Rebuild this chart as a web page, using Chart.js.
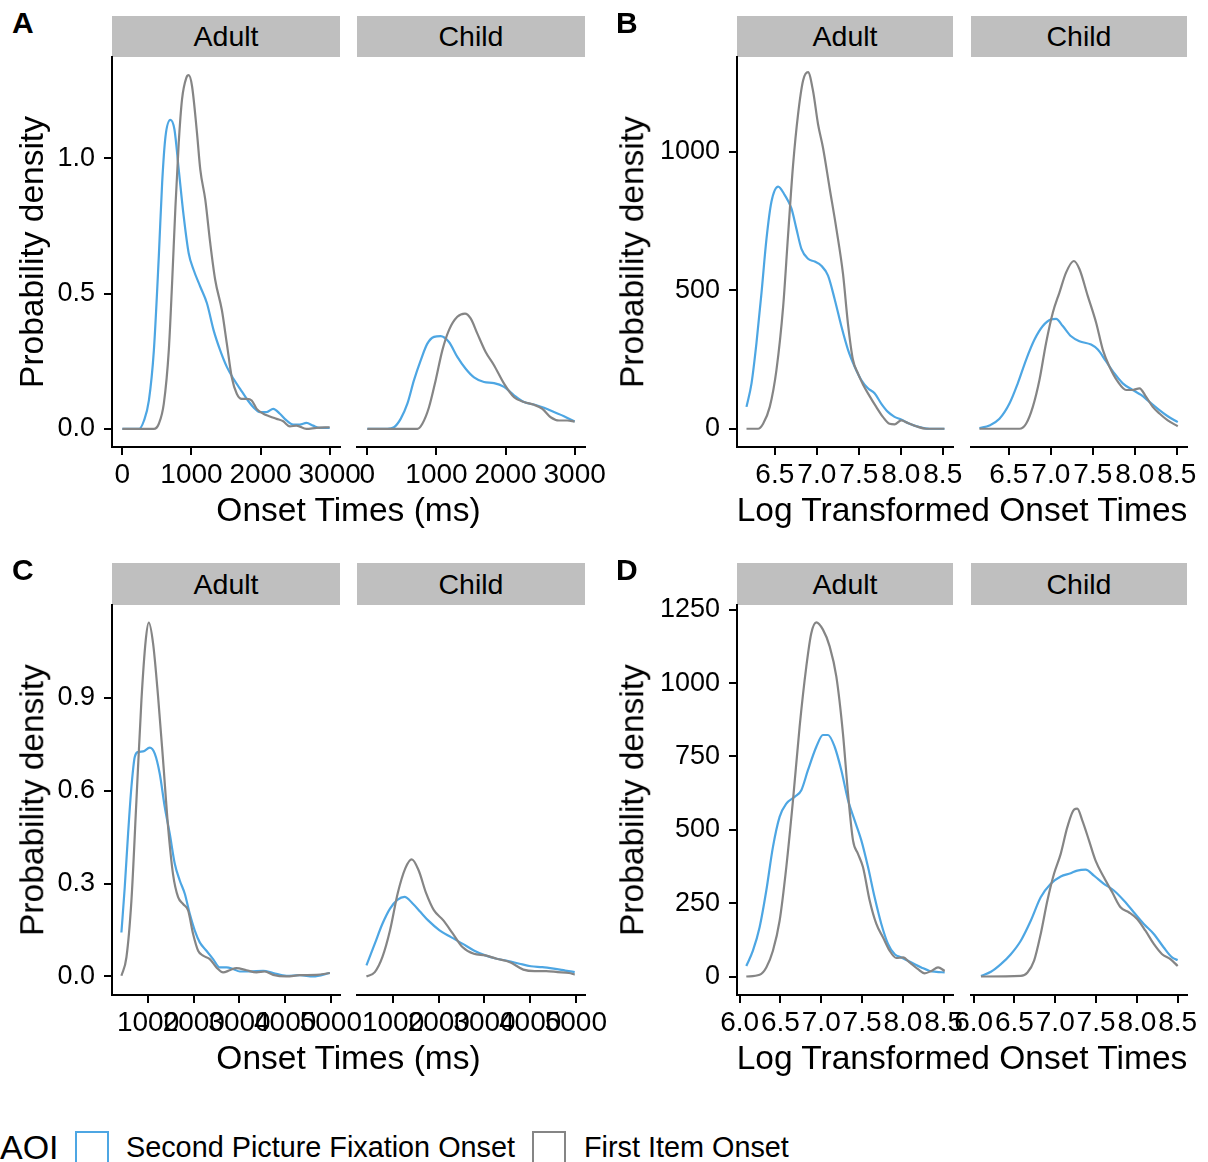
<!DOCTYPE html>
<html>
<head>
<meta charset="utf-8">
<title>Onset time densities</title>
<script src="https://cdn.jsdelivr.net/npm/chart.js@4.4.1/dist/chart.umd.min.js"></script>
<style>
  html, body { margin: 0; padding: 0; background: #fff; }
  #fig { position: relative; width: 1208px; height: 1162px; overflow: hidden;
         font-family: "Liberation Sans", Arial, sans-serif; color: #000; }
  .strip { position: absolute; background: #bfbfbf; font-size: 28.5px;
           display: flex; align-items: center; justify-content: center; }
  .tag { position: absolute; font-weight: bold; font-size: 30px; line-height: 1; }
  .xtitle, .ytitle, .lg { position: absolute; line-height: 1; white-space: nowrap; }
  .xtitle { font-size: 33.5px; transform: translate(-50%, -50%); }
  .ytitle { font-size: 33.5px; transform: translate(-50%, -50%) rotate(-90deg); }
  .lg { transform: translateY(-50%); }
  .key { position: absolute; box-sizing: border-box; border: 2px solid; background: #fff; }
  canvas { position: absolute; }
</style>
</head>
<body>
<div id="fig"></div>
<script>
const SECOND = 'Second Picture Fixation Onset';
const FIRST = 'First Item Onset';
const BLUE = '#4da6e3';
const GREY = '#858585';

// --- A: raw onset times (ms) ---
const aAdultSecond = [[0,0],[240,0],[312,0.03],[384,0.105],[456,0.29],[528,0.64],[576,0.91],[624,1.08],[696,1.142],[754,1.106],[816,0.958],[888,0.785],[960,0.649],[1032,0.587],[1128,0.525],[1224,0.464],[1320,0.365],[1416,0.29],[1512,0.229],[1608,0.185],[1704,0.148],[1800,0.111],[1896,0.08],[1992,0.062],[2088,0.062],[2184,0.074],[2280,0.056],[2376,0.031],[2472,0.016],[2568,0.016],[2664,0.022],[2760,0.012],[2856,0.004],[3000,0.004]];
const aAdultFirst = [[0,0],[456,0],[528,0.019],[600,0.093],[672,0.29],[720,0.54],[768,0.82],[816,1.057],[864,1.218],[927,1.298],[960,1.307],[1008,1.267],[1080,1.094],[1128,0.958],[1200,0.847],[1272,0.686],[1344,0.55],[1440,0.439],[1512,0.315],[1584,0.19],[1656,0.13],[1728,0.111],[1800,0.111],[1872,0.105],[1944,0.074],[2040,0.056],[2136,0.046],[2232,0.037],[2328,0.028],[2424,0.009],[2520,0.012],[2664,0],[2808,0.004],[3000,0.006]];
const aChildSecond = [[0,0],[289,0],[386,0.006],[482,0.037],[579,0.093],[675,0.18],[772,0.253],[868,0.315],[965,0.34],[1060,0.343],[1181,0.321],[1302,0.266],[1423,0.222],[1544,0.19],[1688,0.173],[1833,0.169],[1978,0.155],[2123,0.124],[2267,0.099],[2412,0.09],[2557,0.078],[2701,0.062],[2846,0.047],[3000,0.027]];
const aChildFirst = [[0,0],[724,0],[796,0.019],[892,0.08],[989,0.18],[1085,0.29],[1181,0.365],[1302,0.414],[1413,0.426],[1495,0.408],[1592,0.352],[1712,0.284],[1833,0.235],[1978,0.167],[2123,0.117],[2267,0.099],[2412,0.089],[2533,0.074],[2653,0.043],[2774,0.031],[2894,0.031],[3000,0.027]];

// --- B: log onset times ---
const bAdultSecond = [[6.163,79],[6.223,164],[6.282,310],[6.342,492],[6.401,686],[6.46,820],[6.54,875],[6.619,844],[6.698,796],[6.757,723],[6.817,650],[6.896,614],[6.975,604],[7.054,589],[7.134,553],[7.213,468],[7.292,371],[7.371,286],[7.45,225],[7.53,176],[7.609,146],[7.688,128],[7.767,91],[7.847,61],[7.926,43],[8.005,33],[8.104,18],[8.223,6],[8.342,0],[8.52,0]];
const bAdultFirst = [[6.163,0],[6.3,0],[6.361,18],[6.44,79],[6.52,213],[6.6,443],[6.658,699],[6.718,954],[6.777,1136],[6.837,1258],[6.896,1288],[6.955,1221],[7.015,1100],[7.074,1015],[7.153,869],[7.233,723],[7.312,560],[7.371,380],[7.43,250],[7.49,200],[7.55,160],[7.629,118],[7.708,79],[7.787,43],[7.866,18],[7.926,16],[8.005,30],[8.084,21],[8.183,9],[8.302,0],[8.52,0]];
const bChildSecond = [[6.151,2],[6.27,12],[6.389,36],[6.508,91],[6.607,164],[6.706,249],[6.806,322],[6.905,371],[7.004,395],[7.063,397],[7.143,371],[7.242,334],[7.341,316],[7.48,304],[7.56,286],[7.659,243],[7.758,200],[7.857,164],[7.976,140],[8.075,122],[8.175,97],[8.294,67],[8.393,45],[8.512,24]];
const bChildFirst = [[6.151,0],[6.627,0],[6.706,18],[6.786,79],[6.865,176],[6.944,310],[7.024,419],[7.103,492],[7.183,565],[7.274,606],[7.341,577],[7.44,480],[7.54,383],[7.619,286],[7.698,225],[7.798,170],[7.897,140],[7.976,140],[8.056,146],[8.135,115],[8.214,79],[8.294,55],[8.393,30],[8.512,9]];

// --- C: raw onset times (ms), wider window ---
const cAdultSecond = [[416,0.142],[489,0.288],[562,0.461],[635,0.612],[708,0.709],[781,0.725],[891,0.727],[1036,0.739],[1146,0.72],[1255,0.655],[1365,0.547],[1474,0.461],[1584,0.364],[1693,0.31],[1803,0.267],[1912,0.202],[2022,0.148],[2131,0.11],[2277,0.083],[2423,0.056],[2569,0.029],[2715,0.029],[2861,0.024],[3007,0.016],[3226,0.016],[3518,0.018],[3737,0.011],[4029,0.002],[4321,0.004],[4613,0],[4978,0.011]];
const cAdultFirst = [[416,0.002],[526,0.062],[635,0.245],[745,0.569],[854,0.892],[949,1.087],[1015,1.143],[1109,1.076],[1219,0.903],[1328,0.698],[1438,0.482],[1547,0.329],[1657,0.256],[1766,0.234],[1876,0.213],[1985,0.137],[2095,0.083],[2204,0.067],[2350,0.056],[2496,0.029],[2642,0.013],[2788,0.02],[2934,0.027],[3153,0.02],[3372,0.013],[3555,0.016],[3737,0.005],[4029,0],[4321,0.004],[4686,0.005],[4978,0.011]];
const cChildSecond = [[417,0.036],[600,0.106],[767,0.17],[933,0.219],[1100,0.248],[1250,0.257],[1433,0.235],[1600,0.208],[1767,0.181],[2017,0.149],[2267,0.127],[2517,0.106],[2767,0.084],[3017,0.068],[3267,0.057],[3517,0.05],[3767,0.041],[4017,0.033],[4267,0.03],[4517,0.025],[4767,0.019],[4975,0.014]];
const cChildFirst = [[417,0],[600,0.014],[767,0.063],[933,0.149],[1100,0.268],[1267,0.349],[1408,0.378],[1558,0.343],[1725,0.268],[1892,0.214],[2100,0.181],[2308,0.138],[2517,0.095],[2767,0.073],[3017,0.068],[3267,0.057],[3558,0.046],[3850,0.022],[4100,0.017],[4350,0.017],[4600,0.014],[4850,0.011],[4975,0.006]];

// --- D: log onset times, wider window ---
const dAdultSecond = [[6.082,36],[6.163,88],[6.245,168],[6.327,293],[6.408,441],[6.49,544],[6.572,589],[6.674,612],[6.756,635],[6.837,703],[6.94,783],[7.021,823],[7.083,823],[7.164,783],[7.246,703],[7.328,601],[7.409,532],[7.491,464],[7.573,373],[7.654,270],[7.736,179],[7.818,111],[7.9,76],[7.981,65],[8.063,54],[8.145,42],[8.226,31],[8.328,19],[8.41,16],[8.512,14]];
const dAdultFirst = [[6.082,0],[6.245,6],[6.327,31],[6.408,88],[6.49,190],[6.572,373],[6.654,601],[6.735,851],[6.817,1056],[6.878,1170],[6.94,1207],[7.021,1182],[7.103,1125],[7.185,1022],[7.266,828],[7.328,623],[7.389,464],[7.45,418],[7.511,373],[7.593,259],[7.675,179],[7.757,133],[7.838,88],[7.92,63],[8.002,65],[8.083,48],[8.185,25],[8.267,11],[8.349,19],[8.431,31],[8.512,19]];
const dChildSecond = [[6.09,2],[6.212,16],[6.334,42],[6.456,76],[6.578,122],[6.7,190],[6.822,270],[6.945,316],[7.067,341],[7.189,352],[7.27,361],[7.372,364],[7.474,344],[7.596,316],[7.718,293],[7.84,259],[7.962,219],[8.085,179],[8.207,145],[8.329,99],[8.431,65],[8.5,56]];
const dChildFirst = [[6.09,0],[6.578,2],[6.66,14],[6.741,54],[6.822,145],[6.904,259],[6.985,350],[7.067,418],[7.148,509],[7.23,569],[7.27,572],[7.331,532],[7.413,464],[7.494,395],[7.596,338],[7.698,287],[7.8,236],[7.901,219],[8.003,196],[8.105,156],[8.207,111],[8.309,76],[8.41,59],[8.5,36]];

// tick values per panel
const xTicksA = [0, 1000, 2000, 3000];
const yTicksA = [0, 0.5, 1.0];
const xTicksB = [6.5, 7.0, 7.5, 8.0, 8.5];
const yTicksB = [0, 500, 1000];
const xTicksC = [1000, 2000, 3000, 4000, 5000];
const yTicksC = [0, 0.3, 0.6, 0.9];
const xTicksD = [6.0, 6.5, 7.0, 7.5, 8.0, 8.5];
const yTicksD = [0, 250, 500, 750, 1000, 1250];

const ageGroups = ['Adult', 'Child'];

Chart.defaults.font.family = '"Liberation Sans", Arial, sans-serif';

const fig = document.getElementById('fig');

function addDiv(cls, css, text) {
  const d = document.createElement('div');
  d.className = cls;
  d.style.cssText = css;
  if (text !== undefined) d.textContent = text;
  fig.appendChild(d);
  return d;
}

// one facet = one chart; the y axis is only drawn on the Adult facet.
// Tick labels of a left axis get clipped to the axis box, so the box is kept wide.
function drawFacet(f) {
  const hasY = !!f.yTicks;
  const padL = hasY ? 0 : 40, axisW = hasY ? 100 : 0;
  const padT = 40, padR = 40, axisH = 60;
  const w = padL + axisW + f.w + padR, h = padT + f.h + axisH;

  const canvas = document.createElement('canvas');
  canvas.width = w;
  canvas.height = h;
  canvas.style.left = (f.x - padL - axisW) + 'px';
  canvas.style.top = (f.y - padT) + 'px';
  canvas.style.width = w + 'px';
  canvas.style.height = h + 'px';
  fig.appendChild(canvas);

  const toPts = arr => arr.map(p => ({ x: p[0], y: p[1] }));
  const axisStyle = {
    grid: { drawOnChartArea: false, tickLength: 8, color: '#000', lineWidth: 2 },
    border: { display: true, color: '#000', width: 2 }
  };

  new Chart(canvas, {
    type: 'line',
    data: {
      datasets: [
        { label: FIRST, data: toPts(f.first), borderColor: GREY },
        { label: SECOND, data: toPts(f.second), borderColor: BLUE }
      ]
    },
    options: {
      responsive: false,
      animation: false,
      devicePixelRatio: 1,
      layout: { padding: { left: padL, right: padR, top: padT, bottom: 0 } },
      plugins: { legend: { display: false }, tooltip: { enabled: false } },
      elements: {
        point: { radius: 0 },
        line: { borderWidth: 2.2, cubicInterpolationMode: 'monotone', fill: false }
      },
      scales: {
        x: Object.assign({
          type: 'linear',
          min: f.xRange[0],
          max: f.xRange[1],
          afterBuildTicks: s => { s.ticks = f.xTicks.map(v => ({ value: v })); },
          afterFit: s => { s.height = axisH; },
          ticks: {
            autoSkip: false, maxRotation: 0, minRotation: 0, padding: 3,
            color: '#000', font: { size: 28 },
            callback: v => v.toFixed(f.xDec)
          }
        }, axisStyle),
        y: Object.assign({
          type: 'linear',
          display: hasY,
          min: f.yRange[0],
          max: f.yRange[1],
          afterBuildTicks: s => { s.ticks = (f.yTicks || []).map(v => ({ value: v })); },
          afterFit: s => { s.width = axisW; },
          ticks: {
            padding: 9, color: '#000', font: { size: 27 },
            callback: v => v.toFixed(f.yDec)
          }
        }, axisStyle)
      }
    }
  });
}

// panel layout: letter, facet boxes, axis titles
const panels = [
  { tag: 'A', tagX: 12, top: 57, h: 390, stripTop: 16, cols: [112, 357], w: 228,
    xRange: [-150, 3150], yRange: [-0.067, 1.374], xTicks: xTicksA, yTicks: yTicksA, xDec: 0, yDec: 1,
    series: [[aAdultFirst, aAdultSecond], [aChildFirst, aChildSecond]],
    xTitle: 'Onset Times (ms)', yTitleX: 32 },
  { tag: 'B', tagX: 616, top: 57, h: 390, stripTop: 16, cols: [737, 971], w: 216,
    xRange: [6.05, 8.622], yRange: [-66, 1343], xTicks: xTicksB, yTicks: yTicksB, xDec: 1, yDec: 0,
    series: [[bAdultFirst, bAdultSecond], [bChildFirst, bChildSecond]],
    xTitle: 'Log Transformed Onset Times', yTitleX: 632 },
  { tag: 'C', tagX: 12, top: 605, h: 390, stripTop: 563, cols: [112, 357], w: 228,
    xRange: [210, 5200], yRange: [-0.06, 1.2], xTicks: xTicksC, yTicks: yTicksC, xDec: 0, yDec: 1,
    series: [[cAdultFirst, cAdultSecond], [cChildFirst, cChildSecond]],
    xTitle: 'Onset Times (ms)', yTitleX: 32 },
  { tag: 'D', tagX: 616, top: 605, h: 390, stripTop: 563, cols: [737, 971], w: 216,
    xRange: [5.968, 8.614], yRange: [-63, 1266], xTicks: xTicksD, yTicks: yTicksD, xDec: 1, yDec: 0,
    series: [[dAdultFirst, dAdultSecond], [dChildFirst, dChildSecond]],
    xTitle: 'Log Transformed Onset Times', yTitleX: 632 }
];

panels.forEach(p => {
  addDiv('tag', `left:${p.tagX}px;top:${p.stripTop - 8}px`, p.tag);
  p.cols.forEach((cx, i) => {
    addDiv('strip', `left:${cx}px;top:${p.stripTop}px;width:${p.w}px;height:${p.top - p.stripTop}px`, ageGroups[i]);
    drawFacet({
      x: cx, y: p.top, w: p.w, h: p.h,
      xRange: p.xRange, yRange: p.yRange,
      xTicks: p.xTicks, yTicks: i === 0 ? p.yTicks : null,
      xDec: p.xDec, yDec: p.yDec,
      first: p.series[i][0], second: p.series[i][1]
    });
  });
  const midX = (p.cols[0] + p.cols[1] + p.w) / 2;
  addDiv('xtitle', `left:${midX}px;top:${p.top + p.h + 63}px`, p.xTitle);
  addDiv('ytitle', `left:${p.yTitleX}px;top:${p.top + p.h / 2}px`, 'Probability density');
});

// shared legend along the bottom
addDiv('lg', 'left:0px;top:1147px;font-size:34px', 'AOI');
addDiv('key', `left:75px;top:1131px;width:34px;height:50px;border-color:${BLUE}`);
addDiv('lg', 'left:126px;top:1147px;font-size:28.8px', SECOND);
addDiv('key', `left:532px;top:1131px;width:34px;height:50px;border-color:${GREY}`);
addDiv('lg', 'left:584px;top:1147px;font-size:28.8px', FIRST);
</script>
</body>
</html>
